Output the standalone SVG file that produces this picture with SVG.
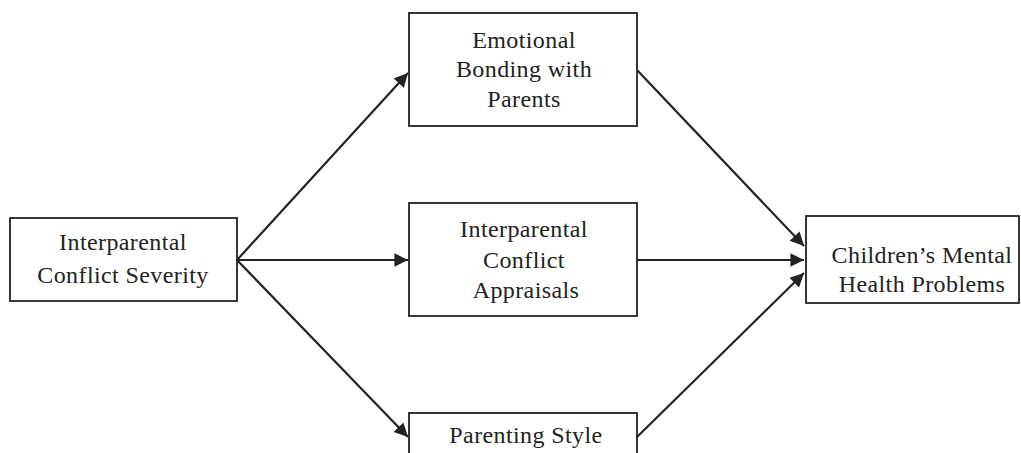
<svg xmlns="http://www.w3.org/2000/svg" width="1021" height="453" viewBox="0 0 1021 453">
<style>
.box{fill:#fff;stroke:#222;stroke-width:1.8}
.t{font-family:"Liberation Serif","Times New Roman",serif;font-size:24px;letter-spacing:0.4px;fill:#222;text-anchor:middle}
.c{stroke:#222;stroke-width:2.2;fill:none;marker-end:url(#ah)}
</style>
<defs>
<marker id="ah" viewBox="0 0 10 10" refX="10" refY="5" markerWidth="7" markerHeight="6.2" markerUnits="strokeWidth" orient="auto">
<path d="M0,0 L10,5 L0,10 Z" fill="#222"/>
</marker>
</defs>
<rect width="1021" height="453" fill="#fff"/>
<g id="connectors">
<line class="c" x1="237" y1="260" x2="408" y2="73"/>
<line class="c" x1="237" y1="260" x2="408" y2="260"/>
<line class="c" x1="237" y1="260" x2="408" y2="437"/>
<line class="c" x1="637" y1="70" x2="804" y2="246"/>
<line class="c" x1="637" y1="260" x2="804" y2="260"/>
<line class="c" x1="637" y1="437" x2="804" y2="273"/>
</g>
<g id="n1">
<rect class="box" x="10" y="218" width="227" height="83"/>
<text class="t" x="123" y="250">Interparental</text>
<text class="t" x="123" y="283">Conflict Severity</text>
</g>
<g id="n2">
<rect class="box" x="409" y="13" width="228" height="113"/>
<text class="t" x="524" y="48">Emotional</text>
<text class="t" x="524" y="77">Bonding with</text>
<text class="t" x="524" y="107">Parents</text>
</g>
<g id="n3">
<rect class="box" x="409" y="203" width="228" height="113"/>
<text class="t" x="524" y="237">Interparental</text>
<text class="t" x="524" y="268">Conflict</text>
<text class="t" x="526" y="298">Appraisals</text>
</g>
<g id="n4">
<rect class="box" x="409" y="413" width="228" height="60"/>
<text class="t" x="526" y="443">Parenting Style</text>
</g>
<g id="n5">
<rect class="box" x="806" y="216" width="213" height="87"/>
<text class="t" x="922" y="263">Children’s Mental</text>
<text class="t" x="922" y="292">Health Problems</text>
</g>
</svg>
